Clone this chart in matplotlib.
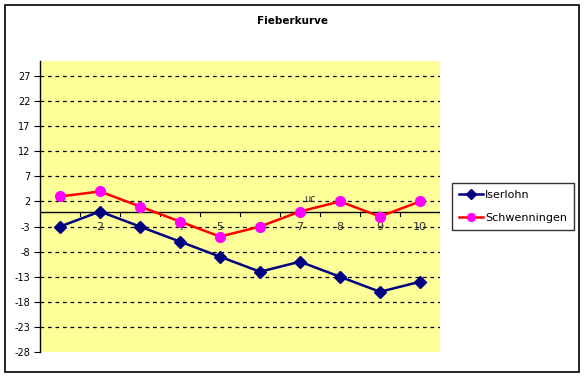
import matplotlib
matplotlib.use("Agg")
import matplotlib.pyplot as plt
from matplotlib.patches import Rectangle
import numpy as np

# Fieberkurve — Daten
tage = list(range(1, 11))
iserlohn = [-3, 0, -3, -6, -9, -12, -10, -13, -16, -14]
schwenningen = [3, 4, 1, -2, -5, -3, 0, 2, -1, 2]
y_ticks = list(range(-28, 28, 5))

NAVY = "#000080"
RED = "#ff0000"
MAGENTA = "#ff00ff"
PLOT_BG = "#ffff99"

plt.rcParams["font.family"] = ["DejaVu Sans"]

W, H = 584, 377
fig = plt.figure(figsize=(W / 100, H / 100), dpi=100)
fig.patch.set_facecolor("white")

# Rahmen um das ganze Diagramm
fig.add_artist(Rectangle((5 / W, 1 - 372 / H), 574 / W, 367 / H, transform=fig.transFigure,
                         fill=False, edgecolor="black", lw=1.2))

ax = fig.add_axes([40 / W, 1 - 352 / H, 400 / W, 291 / H])
ax.set_facecolor(PLOT_BG)
ax.set_xlim(0.5, 10.5)
ax.set_ylim(-28, 30)

for s in ["top", "right", "bottom"]:
    ax.spines[s].set_visible(False)
ax.spines["left"].set_color("black")
ax.spines["left"].set_linewidth(1.0)

ax.set_yticks(y_ticks)
ax.set_yticklabels([str(v) for v in y_ticks], fontsize=7)
ax.tick_params(axis="y", length=4, width=0.8, color="black", pad=3)

# gestrichelte Gitterlinien
for v in y_ticks[1:]:
    ax.axhline(v, color="black", lw=0.9, ls=(0, (3, 3)), zorder=1)

# Rubrikenachse bei 0
ax.axhline(0, color="black", lw=1.0, zorder=2)
ax.set_xticks([])
for b in np.arange(0.5, 11.0, 1.0):
    ax.plot([b, b], [0, -0.8], color="black", lw=0.8, zorder=2)
for t in tage:
    ax.text(t, -3, str(t), ha="center", va="center", fontsize=8, color="#333333", zorder=2)

ax.plot(tage, iserlohn, color=NAVY, lw=1.8, marker="D", ms=6,
        mfc=NAVY, mec=NAVY, zorder=4, label="Iserlohn")
ax.plot(tage, schwenningen, color=RED, lw=1.8, marker="o", ms=7,
        mfc=MAGENTA, mec=MAGENTA, zorder=4, label="Schwenningen")

ax.text(7.25, 2.5, "uc", ha="center", va="center", fontsize=7, color="#333333", zorder=3)

fig.text(293 / W, 1 - 21 / H, "Fieberkurve", ha="center", va="center",
         fontsize=7.5, fontweight="bold")

leg = fig.legend(loc="upper left", bbox_to_anchor=(452 / W, 1 - 183 / H),
                 frameon=True, fancybox=False, fontsize=8, handlelength=2.2,
                 handletextpad=0.2, borderpad=0.6, labelspacing=1.2, borderaxespad=0,
                 markerscale=0.8)
leg.get_frame().set_edgecolor("black")
leg.get_frame().set_linewidth(1.0)

fig.savefig("out.png", dpi=100)
